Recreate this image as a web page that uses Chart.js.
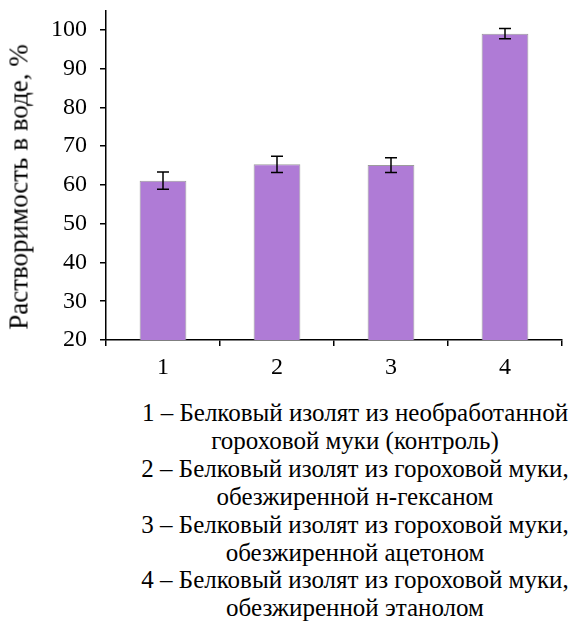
<!DOCTYPE html>
<html>
<head>
<meta charset="utf-8">
<script src="https://cdn.jsdelivr.net/npm/chart.js@4.4.1/dist/chart.umd.min.js"></script>
<style>
  @font-face {
    font-family: 'SerifLocal';
    src: local('Liberation Serif'), local('LiberationSerif'), local('Times New Roman'), local('Tinos');
  }
  #wrap { position: relative; width: 574px; height: 630px; }
  #solubilityChart { position: absolute; left: 0; top: -17px; }
  #yTitle {
    position: absolute; left: 19px; top: 187px;
    transform: translate(-50%, -50%) rotate(-90deg);
    white-space: nowrap;
    font-family: 'Liberation Serif', 'SerifLocal', serif;
    font-size: 27px; color: #000;
  }
  #notes {
    position: absolute; left: 136px; width: 438px; top: 399px;
    text-align: center; white-space: nowrap;
    font-family: 'Liberation Serif', 'SerifLocal', serif;
    font-size: 25px; line-height: 27.9px; color: #000;
  }
</style>
</head>
<body style="margin:0">
<div id="wrap">
  <canvas id="solubilityChart" width="574" height="407"></canvas>
  <div id="yTitle">Растворимость в воде, %</div>
  <div id="notes"></div>
</div>
<script>
// Sample numbers on the category axis
const sampleIds = ['1', '2', '3', '4'];
// Water solubility of each protein isolate, %
const solubilityPct = [61.1, 65.3, 65.1, 99.0];
// Standard deviation for each sample, %
const solubilitySd = [2.2, 2.1, 1.9, 1.3];
// Y-axis tick values
const yTickValues = [20, 30, 40, 50, 60, 70, 80, 90, 100];
// Sample descriptions shown under the chart
const sampleNotes = [
  '1 – Белковый изолят из необработанной',
  'гороховой муки (контроль)',
  '2 – Белковый изолят из гороховой муки,',
  'обезжиренной н-гексаном',
  '3 – Белковый изолят из гороховой муки,',
  'обезжиренной ацетоном',
  '4 – Белковый изолят из гороховой муки,',
  'обезжиренной этанолом'
];

(function () {
  document.getElementById('notes').innerHTML =
    sampleNotes.map(s => '<div>' + s + '</div>').join('');

  const tickFamily = "'Liberation Serif', serif";

  // Draws the ± standard deviation whiskers with caps
  const whiskerPlugin = {
    id: 'sdWhiskers',
    afterDatasetsDraw(chart) {
      const { ctx, scales: { x, y } } = chart;
      ctx.save();
      ctx.strokeStyle = '#000';
      ctx.lineWidth = 1.5;
      solubilityPct.forEach((v, i) => {
        const cx = x.getPixelForValue(i);
        const yTop = y.getPixelForValue(v + solubilitySd[i]);
        const yBot = y.getPixelForValue(v - solubilitySd[i]);
        const cap = 6;
        ctx.beginPath();
        ctx.moveTo(cx, yTop); ctx.lineTo(cx, yBot);
        ctx.moveTo(cx - cap, yTop); ctx.lineTo(cx + cap, yTop);
        ctx.moveTo(cx - cap, yBot); ctx.lineTo(cx + cap, yBot);
        ctx.stroke();
      });
      ctx.restore();
    }
  };

  new Chart(document.getElementById('solubilityChart'), {
    type: 'bar',
    data: {
      labels: sampleIds,
      datasets: [{
        data: solubilityPct,
        backgroundColor: '#AF7BD6',
        borderColor: '#9c9c9c',
        borderWidth: 1,
        borderSkipped: 'bottom',
        categoryPercentage: 1,
        barPercentage: 0.41
      }]
    },
    options: {
      responsive: false,
      animation: false,
      layout: { padding: { left: 0, right: 12, top: 10, bottom: 0 } },
      plugins: { legend: { display: false }, tooltip: { enabled: false } },
      scales: {
        x: {
          offset: true,
          grid: { offset: true, drawOnChartArea: false, drawTicks: true, tickLength: 6, color: '#000', lineWidth: 1.5 },
          border: { display: true, color: '#000', width: 1.5 },
          ticks: { color: '#000', font: { family: tickFamily, size: 24 }, padding: 7, maxRotation: 0 },
          afterFit(s) { s.height = 50; }
        },
        y: {
          min: 20,
          max: 105,
          afterBuildTicks(s) { s.ticks = yTickValues.map(v => ({ value: v })); },
          grid: { drawOnChartArea: false, drawTicks: true, tickLength: 6, color: '#000', lineWidth: 1.5 },
          border: { display: true, color: '#000', width: 1.5 },
          ticks: { color: '#000', font: { family: tickFamily, size: 24 }, padding: 13 },
          afterFit(s) { s.width = 106; }
        }
      }
    },
    plugins: [whiskerPlugin]
  });
})();
</script>
</body>
</html>
